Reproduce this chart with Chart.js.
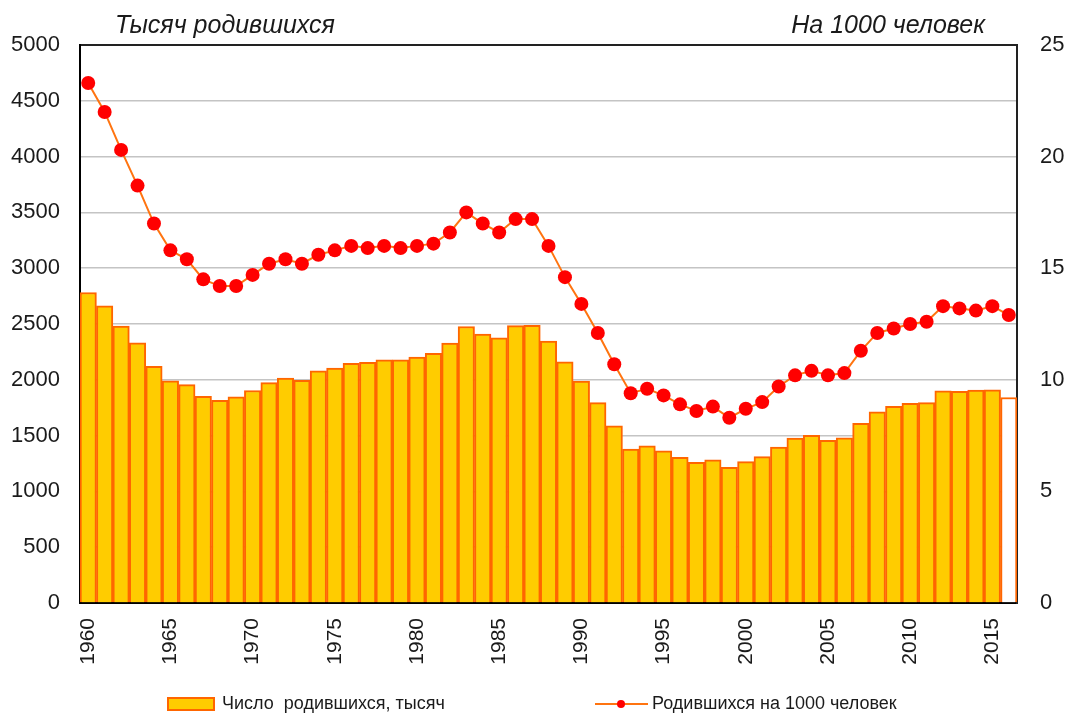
<!DOCTYPE html>
<html>
<head>
<meta charset="utf-8">
<script src="https://cdn.jsdelivr.net/npm/chart.js@4/dist/chart.umd.min.js"></script>
<style>
    html, body { margin: 0; padding: 0; background: #fff; }
    #wrap { width: 1069px; height: 714px; }
</style>
</head>
<body>
<div id="wrap"><canvas id="birthChart" width="1069" height="714"></canvas></div>
<script>
// Годы
const years = [
    1960, 1961, 1962, 1963, 1964, 1965, 1966, 1967, 1968, 1969,
    1970, 1971, 1972, 1973, 1974, 1975, 1976, 1977, 1978, 1979,
    1980, 1981, 1982, 1983, 1984, 1985, 1986, 1987, 1988, 1989,
    1990, 1991, 1992, 1993, 1994, 1995, 1996, 1997, 1998, 1999,
    2000, 2001, 2002, 2003, 2004, 2005, 2006, 2007, 2008, 2009,
    2010, 2011, 2012, 2013, 2014, 2015, 2016
];

// Число родившихся, тысяч
const birthsThousands = [
    2782, 2663, 2482, 2331, 2121, 1991, 1957, 1851, 1817, 1847,
    1904, 1975, 2015, 1995, 2080, 2106, 2147, 2157, 2179, 2179,
    2203, 2237, 2328, 2478, 2409, 2375, 2486, 2489, 2348, 2161,
    1989, 1795, 1588, 1379, 1409, 1364, 1305, 1260, 1283, 1215,
    1267, 1312, 1397, 1477, 1502, 1457, 1479, 1610, 1714, 1762,
    1789, 1796, 1902, 1896, 1908, 1910, 1841
];

// Родившихся на 1000 человек
const birthRate = [
    23.3, 22.0, 20.3, 18.7, 17.0, 15.8, 15.4, 14.5, 14.2, 14.2,
    14.7, 15.2, 15.4, 15.2, 15.6, 15.8, 16.0, 15.9, 16.0, 15.9,
    16.0, 16.1, 16.6, 17.5, 17.0, 16.6, 17.2, 17.2, 16.0, 14.6,
    13.4, 12.1, 10.7, 9.4, 9.6, 9.3, 8.9, 8.6, 8.8, 8.3,
    8.7, 9.0, 9.7, 10.2, 10.4, 10.2, 10.3, 11.3, 12.1, 12.3,
    12.5, 12.6, 13.3, 13.2, 13.1, 13.3, 12.9
];

const leftTicks = { min: 0, max: 5000, step: 500 };
const rightTicks = { min: 0, max: 25, step: 5 };

const FONT = '"Liberation Sans", Arial, sans-serif';
const BAR_FILL = '#FFCC00';
const BAR_EDGE = '#FF6600';
const LINE_COLOR = '#FF7410';
const DOT_COLOR = '#FF0000';

// последний год (2016) — предварительные данные, без заливки
const barFills = years.map((y, i) => i === years.length - 1 ? '#FFFFFF' : BAR_FILL);

// подписи осей сверху и легенда внизу
const decorPlugin = {
    id: 'decor',
    afterDraw(chart) {
        const ctx = chart.ctx;
        ctx.save();
        ctx.fillStyle = '#1a1a1a';
        ctx.font = 'italic 25px ' + FONT;
        ctx.textBaseline = 'alphabetic';
        ctx.textAlign = 'left';
        ctx.fillText('Тысяч родившихся', 115, 33);
        ctx.textAlign = 'right';
        ctx.fillText('На 1000 человек', 985, 33);

        // легенда
        const ly = 704;
        ctx.fillStyle = BAR_FILL;
        ctx.strokeStyle = BAR_EDGE;
        ctx.lineWidth = 2;
        ctx.fillRect(168, ly - 6, 46, 12);
        ctx.strokeRect(168, ly - 6, 46, 12);

        ctx.strokeStyle = LINE_COLOR;
        ctx.lineWidth = 2;
        ctx.beginPath();
        ctx.moveTo(595, ly);
        ctx.lineTo(648, ly);
        ctx.stroke();
        ctx.fillStyle = DOT_COLOR;
        ctx.beginPath();
        ctx.arc(621, ly, 4, 0, Math.PI * 2);
        ctx.fill();

        ctx.fillStyle = '#1a1a1a';
        ctx.font = '18px ' + FONT;
        ctx.textAlign = 'left';
        ctx.textBaseline = 'middle';
        ctx.fillText('Число  родившихся, тысяч', 222, ly);
        ctx.fillText('Родившихся на 1000 человек', 652, ly);
        ctx.restore();
    }
};

const ctx = document.getElementById('birthChart').getContext('2d');
new Chart(ctx, {
    type: 'bar',
    data: {
        labels: years,
        datasets: [{
            type: 'line',
            label: 'Родившихся на 1000 человек',
            data: birthRate,
            yAxisID: 'y1',
            borderColor: LINE_COLOR,
            borderWidth: 2,
            pointRadius: 7,
            pointBackgroundColor: DOT_COLOR,
            pointBorderColor: DOT_COLOR,
            pointBorderWidth: 0,
            tension: 0,
            order: 0
        }, {
            label: 'Число родившихся, тысяч',
            data: birthsThousands,
            yAxisID: 'y',
            backgroundColor: barFills,
            borderColor: BAR_EDGE,
            borderWidth: 2,
            categoryPercentage: 1,
            barPercentage: 1,
            order: 1
        }]
    },
    options: {
        responsive: false,
        animation: false,
        layout: { padding: { top: 45, left: 0, right: 0, bottom: 0 } },
        plugins: {
            legend: { display: false },
            tooltip: { enabled: false },
            title: { display: false }
        },
        scales: {
            x: {
                grid: { display: false, drawTicks: false },
                border: { display: true, color: '#000', width: 2 },
                ticks: {
                    autoSkip: false,
                    maxRotation: 90,
                    minRotation: 90,
                    padding: 15,
                    color: '#1a1a1a',
                    font: { family: FONT, size: 21 },
                    callback: (val, i) => years[i] % 5 === 0 ? String(years[i]) : ''
                },
                afterFit: (s) => { s.height = 111; }
            },
            y: {
                position: 'left',
                min: leftTicks.min,
                max: leftTicks.max,
                ticks: {
                    stepSize: leftTicks.step,
                    padding: 20,
                    color: '#1a1a1a',
                    font: { family: FONT, size: 22 },
                    callback: (v) => String(v)
                },
                grid: {
                    drawTicks: false,
                    lineWidth: (c) => c.tick && c.tick.value === leftTicks.max ? 2 : 1.5,
                    color: (c) => c.tick && c.tick.value === leftTicks.max ? '#222' : '#c4c4c4'
                },
                border: { display: true, color: '#000', width: 2 },
                afterFit: (s) => { s.width = 80; }
            },
            y1: {
                position: 'right',
                min: rightTicks.min,
                max: rightTicks.max,
                ticks: {
                    stepSize: rightTicks.step,
                    padding: 23,
                    color: '#1a1a1a',
                    font: { family: FONT, size: 22 },
                    callback: (v) => String(v)
                },
                grid: { display: false, drawTicks: false },
                border: { display: true, color: '#222', width: 2 },
                afterFit: (s) => { s.width = 52; }
            }
        }
    },
    plugins: [decorPlugin]
});
</script>
</body>
</html>
